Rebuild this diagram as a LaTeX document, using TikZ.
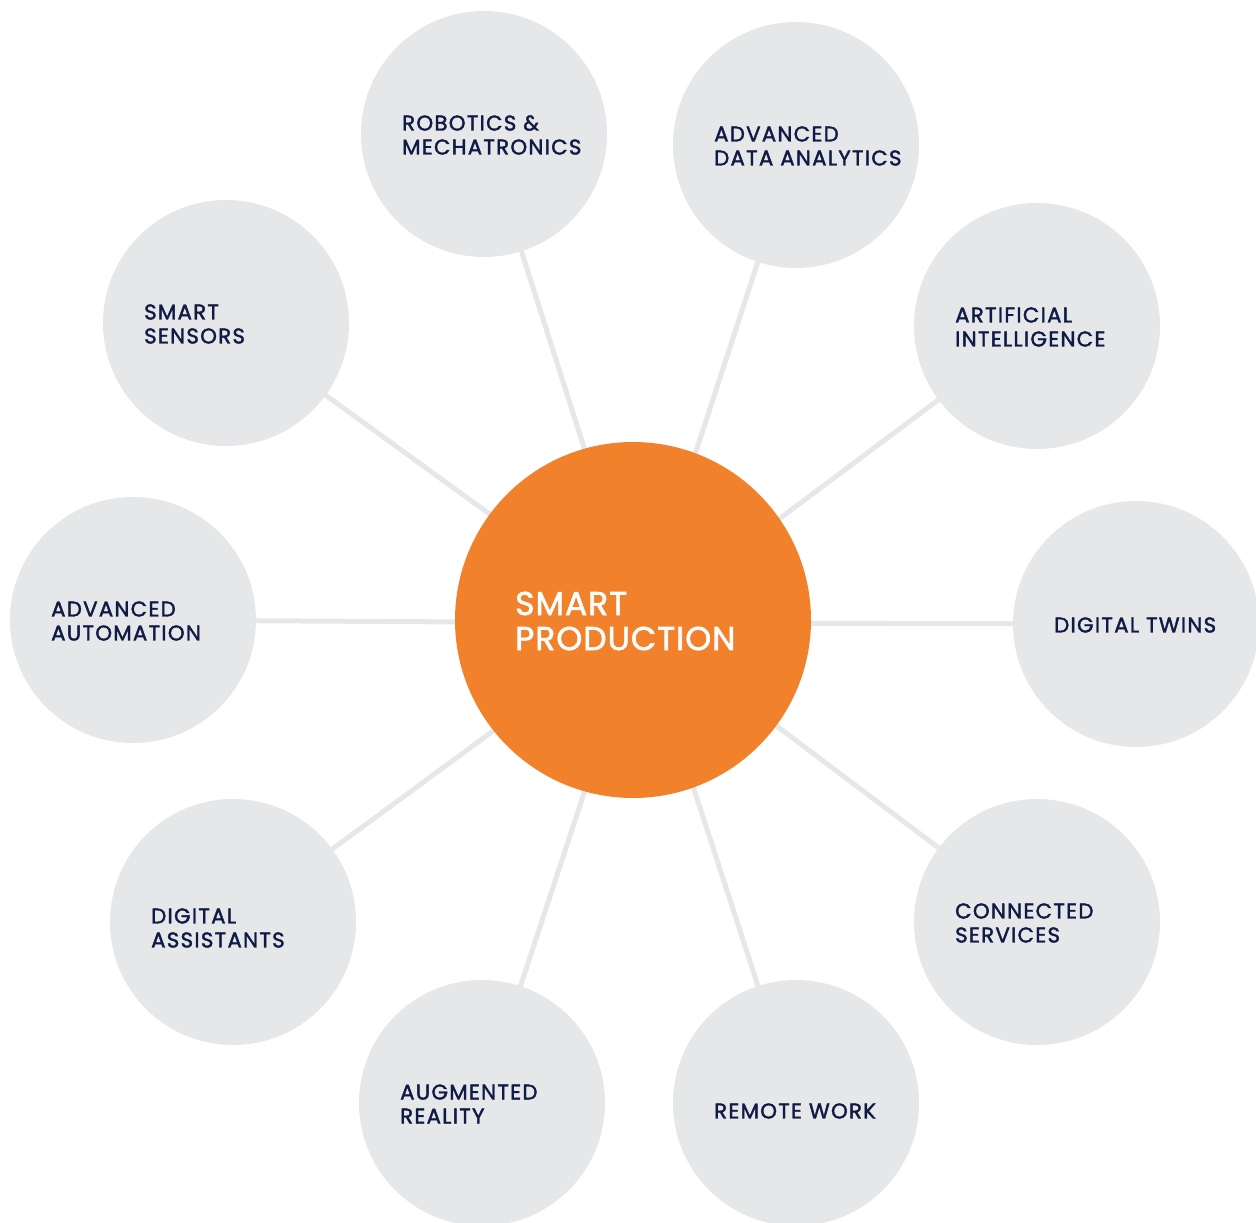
\documentclass[tikz,border=0pt]{standalone}
\usepackage{fontspec}
\setmainfont{Poppins}
\newfontfamily\topicfont{Poppins}[LetterSpace=6, FakeBold=1.8]
\newfontfamily\hubfont{Poppins}[LetterSpace=3, FakeBold=1.8]
\usepackage{tikz}
\usepackage{xcolor}
\definecolor{sporange}{HTML}{F2812C}
\definecolor{spgray}{HTML}{E6E7E9}
\definecolor{spnavy}{HTML}{0F1A45}

\begin{document}
\begin{tikzpicture}[x=1pt,y=-1pt]
\tikzstyle{every node}+=[inner sep=0pt]
\tikzstyle{topic}=[circle, fill=spgray, minimum size=246pt]
\tikzstyle{topiclabel}=[anchor=west, align=left, text=spnavy, font=\topicfont\fontsize{21.3}{24}\selectfont]
\tikzstyle{spoke}=[spgray, line width=5pt]
\useasboundingbox (0,0) rectangle (1256,1223);
% spokes first, so the circles cover them
\coordinate (hub) at (633,620);
\coordinate (spokes) at (640,623);
\coordinate (c1) at (484,134);
\coordinate (c2) at (796,145);
\coordinate (c3) at (1037,326);
\coordinate (c4) at (1136,624);
\coordinate (c5) at (1037,922);
\coordinate (c6) at (796,1103);
\coordinate (c7) at (482,1103);
\coordinate (c8) at (233,922);
\coordinate (c9) at (133,620);
\coordinate (c10) at (226,323);
\draw [spoke] (spokes) -- (c1);
\draw [spoke] (spokes) -- (c2);
\draw [spoke] (spokes) -- (c3);
\draw [spoke] (spokes) -- (c4);
\draw [spoke] (spokes) -- (c5);
\draw [spoke] (spokes) -- (c6);
\draw [spoke] (spokes) -- (c7);
\draw [spoke] (spokes) -- (c8);
\draw [spoke] (spokes) -- (c9);
\draw [spoke] (spokes) -- (c10);
% outer topics
\node [topic] (robotics) at (c1) {};
\node [topiclabel] (roboticstext) at ([xshift=-82pt,yshift=-1pt]robotics.center) {ROBOTICS \&\\MECHATRONICS};
\node [topic] (analytics) at (c2) {};
\node [topiclabel] (analyticstext) at ([xshift=-82pt,yshift=-1pt]analytics.center) {ADVANCED\\DATA ANALYTICS};
\node [topic] (ai) at (c3) {};
\node [topiclabel] (aitext) at ([xshift=-82pt,yshift=-1pt]ai.center) {ARTIFICIAL\\INTELLIGENCE};
\node [topic] (twins) at (c4) {};
\node [topiclabel] (twinstext) at ([xshift=-82pt,yshift=-1pt]twins.center) {DIGITAL TWINS};
\node [topic] (services) at (c5) {};
\node [topiclabel] (servicestext) at ([xshift=-82pt,yshift=-1pt]services.center) {CONNECTED\\SERVICES};
\node [topic] (remote) at (c6) {};
\node [topiclabel] (remotetext) at ([xshift=-82pt,yshift=-8pt]remote.center) {REMOTE WORK};
\node [topic] (augmented) at (c7) {};
\node [topiclabel] (augmentedtext) at ([xshift=-82pt,yshift=-1pt]augmented.center) {AUGMENTED\\REALITY};
\node [topic] (assistants) at (c8) {};
\node [topiclabel] (assistantstext) at ([xshift=-82pt,yshift=-6pt]assistants.center) {DIGITAL\\ASSISTANTS};
\node [topic] (automation) at (c9) {};
\node [topiclabel] (automationtext) at ([xshift=-82pt,yshift=-1pt]automation.center) {ADVANCED\\AUTOMATION};
\node [topic] (sensors) at (c10) {};
\node [topiclabel] (sensorstext) at ([xshift=-82pt,yshift=-1pt]sensors.center) {SMART\\SENSORS};
% hub
\node [circle, fill=sporange, minimum size=356pt] (smart) at (hub) {};
\node [anchor=west, align=left, text=white, font=\hubfont\fontsize{33}{35}\selectfont] (smarttext) at ([xshift=-118pt,yshift=-1pt]smart.center) {SMART\\PRODUCTION};
\end{tikzpicture}
\end{document}
